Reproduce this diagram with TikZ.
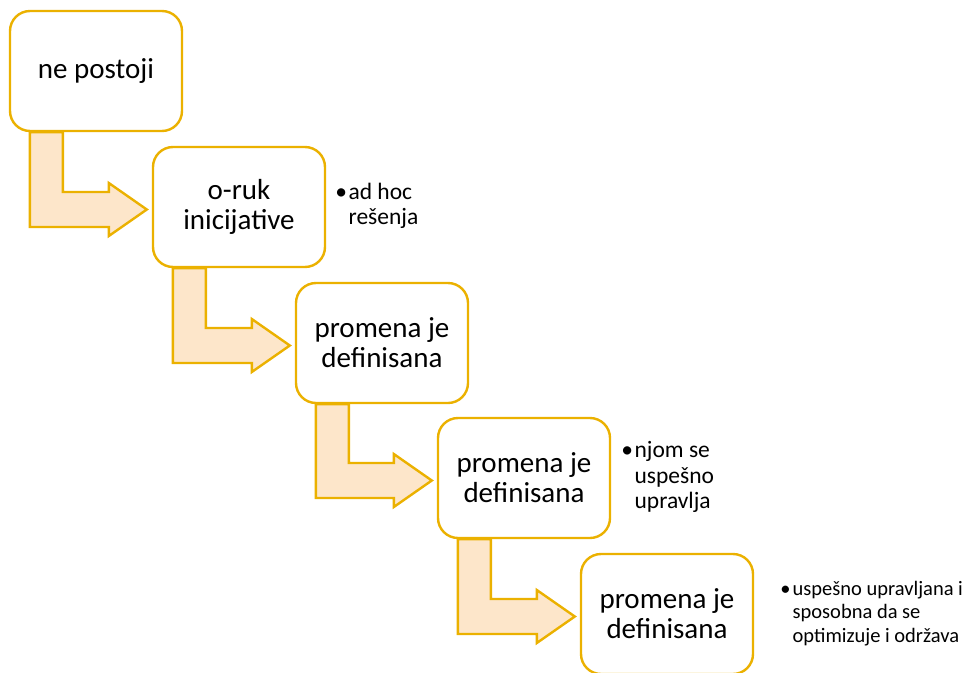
\documentclass[tikz,border=0pt]{standalone}
\usepackage{fontspec}
\setmainfont{Carlito}
\usetikzlibrary{calc,backgrounds,positioning}
\definecolor{gold}{RGB}{235,177,0}
\definecolor{peach}{RGB}{253,230,202}

\begin{document}
\begin{tikzpicture}[x=1pt,y=-1pt,
stage/.style={rectangle, rounded corners=20pt, draw=gold, line width=2.4pt,
fill=white, minimum width=172pt, minimum height=120pt, align=center,
inner sep=2pt, font=\fontsize{29}{30}\selectfont},
note/.style={anchor=west, align=left, inner sep=0pt,
font=\fontsize{23.5}{25.5}\selectfont},
bent/.style={draw=gold, line width=2.4pt, fill=peach, line join=miter}]

\useasboundingbox (0,0) rectangle (968,672);

\node[stage] at (96,71) (s1) {ne postoji};
\node[stage] at (239,207) (s2) {o-ruk\\inicijative};
\node[stage] at (382,343) (s3) {promena je\\definisana};
\node[stage] at (524,478) (s4) {promena je\\definisana};
\node[stage] at (667,614) (s5) {promena je\\definisana};

%% side notes
\node[note, right=9pt of s2] (n2) {\begin{tabular}{@{}l@{\hspace{1.5pt}}l@{}}
\textbullet & ad hoc\\ & rešenja\end{tabular}};
\node[note, right=10pt of s4] (n4) {\begin{tabular}{@{}l@{\hspace{1.5pt}}l@{}}
\textbullet & njom se\\ & uspešno\\ & upravlja\end{tabular}};
\node[note, right=26pt of s5, font=\fontsize{20.5}{23.5}\selectfont] (n5) {\begin{tabular}{@{}l@{\hspace{2pt}}l@{}}
\textbullet & uspešno upravljana i\\ & sposobna da se\\ & optimizuje i održava\end{tabular}};

%% bent arrows
\begin{scope}[on background layer]
\foreach \a/\b in {s1/s2,s2/s3,s3/s4,s4/s5}{
\draw[bent] let \p1=(\a.south west), \p2=(\b.west) in
(\x1+21pt,\y1) -- (\x1+21pt,\y2-20pt) -- (\x2-43pt,\y2-20pt)
-- (\x2-43pt,\y2-29pt) -- (\x2-5pt,\y2-2.5pt) -- (\x2-43pt,\y2+24pt)
-- (\x2-43pt,\y2+15pt) -- (\x1+54pt,\y2+15pt) -- (\x1+54pt,\y1) -- cycle;
}
\end{scope}

\end{tikzpicture}
\end{document}
